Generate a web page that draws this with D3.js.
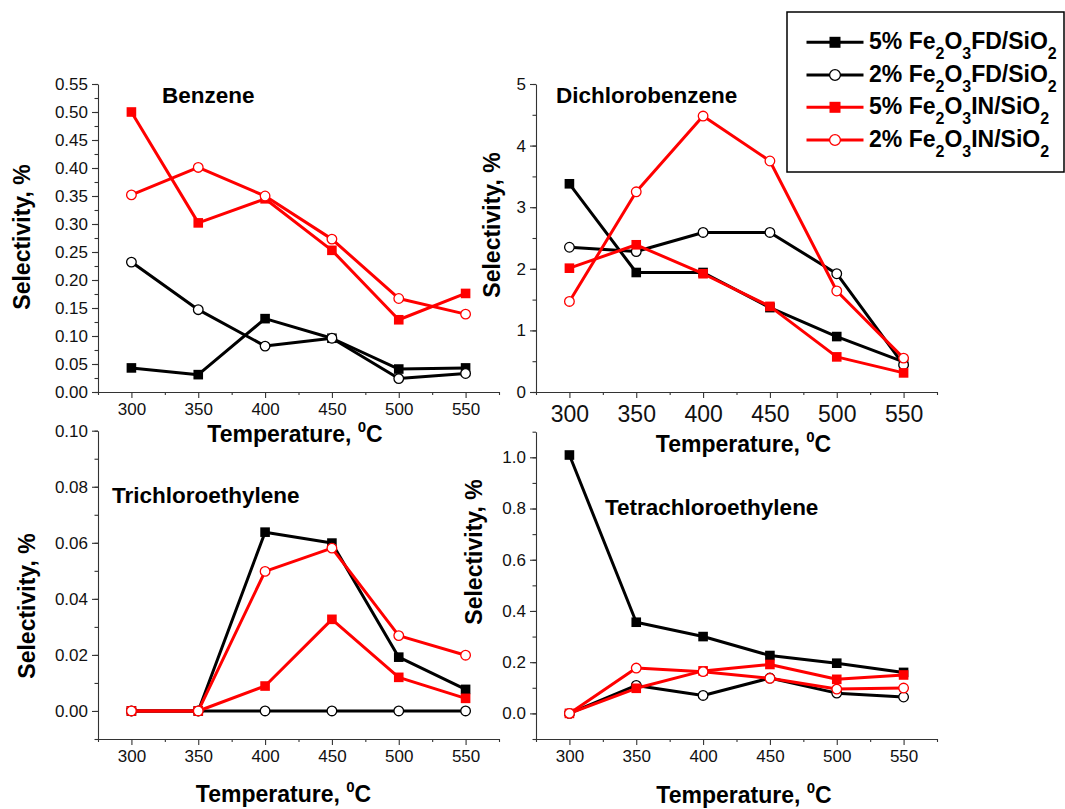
<!DOCTYPE html>
<html>
<head>
<meta charset="utf-8">
<script src="https://cdn.jsdelivr.net/npm/d3@7"></script>
<style>
  html, body { margin: 0; padding: 0; background: #fff; }
  svg { display: block; font-family: "Liberation Sans", Arial, Helvetica, sans-serif; }
</style>
</head>
<body>
<svg id="chart" width="1065" height="809"></svg>
<script>
// Reaction temperatures, °C
const temperatures = [300, 350, 400, 450, 500, 550];

// Catalyst series (legend order)
const seriesKeys = ["fd5", "fd2", "in5", "in2"];
const seriesPercent = ["5%", "2%", "5%", "2%"];
const seriesMethod = ["FD", "FD", "IN", "IN"];

// Benzene selectivity, %
const benzeneFd5 = [0.043, 0.031, 0.131, 0.096, 0.041, 0.043];
const benzeneFd2 = [0.232, 0.147, 0.082, 0.096, 0.024, 0.033];
const benzeneIn5 = [0.500, 0.302, 0.345, 0.253, 0.129, 0.176];
const benzeneIn2 = [0.352, 0.401, 0.350, 0.273, 0.167, 0.139];

// Dichlorobenzene selectivity, %
const dichlorobenzeneFd5 = [3.38, 1.94, 1.94, 1.37, 0.90, 0.49];
const dichlorobenzeneFd2 = [2.35, 2.28, 2.59, 2.59, 1.92, 0.44];
const dichlorobenzeneIn5 = [2.01, 2.39, 1.92, 1.39, 0.57, 0.31];
const dichlorobenzeneIn2 = [1.47, 3.25, 4.48, 3.75, 1.64, 0.55];

// Trichloroethylene selectivity, %
const trichloroethyleneFd5 = [0, 0, 0.0638, 0.0599, 0.0192, 0.0077];
const trichloroethyleneFd2 = [0, 0, 0, 0, 0, 0];
const trichloroethyleneIn5 = [0, 0, 0.0089, 0.0327, 0.0120, 0.0045];
const trichloroethyleneIn2 = [0, 0, 0.0498, 0.0581, 0.0269, 0.0199];

// Tetrachloroethylene selectivity, %
const tetrachloroethyleneFd5 = [1.009, 0.356, 0.300, 0.226, 0.196, 0.160];
const tetrachloroethyleneFd2 = [0, 0.109, 0.070, 0.138, 0.079, 0.064];
const tetrachloroethyleneIn5 = [0, 0.098, 0.166, 0.191, 0.133, 0.150];
const tetrachloroethyleneIn2 = [0, 0.177, 0.163, 0.137, 0.095, 0.099];

// Axis tick values
const xMajorTicks = [300, 350, 400, 450, 500, 550];
const xMinorTicks = [275, 325, 375, 425, 475, 525, 575];
const benzeneTicks = [0, 0.05, 0.10, 0.15, 0.20, 0.25, 0.30, 0.35, 0.40, 0.45, 0.50, 0.55];
const dichlorobenzeneTicks = [0, 1, 2, 3, 4, 5];
const trichloroethyleneTicks = [0, 0.02, 0.04, 0.06, 0.08, 0.10];
const tetrachloroethyleneTicks = [0, 0.2, 0.4, 0.6, 0.8, 1.0];

// Series styles
const styles = {
  fd5: { color: "#000000", marker: "square" },
  fd2: { color: "#000000", marker: "circle" },
  in5: { color: "#ff0000", marker: "square" },
  in2: { color: "#ff0000", marker: "circle" }
};

const svg = d3.select("#chart");
const FONT_BOLD = 23;

const panels = [
  {
    title: "Benzene", titleX: 162, titleY: 103,
    left: 98, right: 499, top: 84, bottom: 392,
    yDomain: [0, 0.55], yTicks: benzeneTicks, yFormat: d3.format(".2f"),
    yMinorStep: 0.025, xTickFont: 17,
    yTitle: [22, 237], xTitle: [295, 441.5],
    series: { fd5: benzeneFd5, fd2: benzeneFd2, in5: benzeneIn5, in2: benzeneIn2 }
  },
  {
    title: "Dichlorobenzene", titleX: 556, titleY: 103,
    left: 536, right: 937, top: 84, bottom: 392,
    yDomain: [0, 5], yTicks: dichlorobenzeneTicks, yFormat: d3.format("d"),
    yMinorStep: 0.5, xTickFont: 23,
    yTitle: [492, 225], xTitle: [743.5, 451.5],
    series: { fd5: dichlorobenzeneFd5, fd2: dichlorobenzeneFd2, in5: dichlorobenzeneIn5, in2: dichlorobenzeneIn2 }
  },
  {
    title: "Trichloroethylene", titleX: 112, titleY: 503,
    left: 98, right: 499, top: 430.7, bottom: 739,
    yDomain: [-0.01, 0.10], yTicks: trichloroethyleneTicks, yFormat: d3.format(".2f"),
    yMinorStep: 0.01, xTickFont: 17,
    yTitle: [27, 606], xTitle: [283.5, 801.5],
    series: { fd5: trichloroethyleneFd5, fd2: trichloroethyleneFd2, in5: trichloroethyleneIn5, in2: trichloroethyleneIn2 }
  },
  {
    title: "Tetrachloroethylene", titleX: 605, titleY: 515,
    left: 536, right: 937, top: 431.7, bottom: 739,
    yDomain: [-0.1, 1.1], yTicks: tetrachloroethyleneTicks, yFormat: d3.format(".1f"),
    yMinorStep: 0.1, xTickFont: 17,
    yTitle: [474, 552], xTitle: [744, 803],
    series: { fd5: tetrachloroethyleneFd5, fd2: tetrachloroethyleneFd2, in5: tetrachloroethyleneIn5, in2: tetrachloroethyleneIn2 }
  }
];

function minorValues(domain, step) {
  const out = [];
  const n = Math.round((domain[1] - domain[0]) / step);
  for (let i = 0; i <= n; i++) out.push(+(domain[0] + i * step).toFixed(6));
  return out;
}

function drawMarker(g, kind, cx, cy, color) {
  if (kind === "square") {
    g.append("rect")
      .attr("x", cx - 4.8).attr("y", cy - 4.8)
      .attr("width", 9.6).attr("height", 9.6)
      .attr("fill", color);
  } else {
    g.append("circle")
      .attr("cx", cx).attr("cy", cy).attr("r", 4.8)
      .attr("fill", "#ffffff")
      .attr("stroke", color).attr("stroke-width", 1.3);
  }
}

panels.forEach(p => {
  const x = d3.scaleLinear().domain([275, 575]).range([p.left, p.right]);
  const y = d3.scaleLinear().domain(p.yDomain).range([p.bottom, p.top]);
  const g = svg.append("g");

  // Minor ticks
  g.append("g")
    .attr("transform", `translate(0,${p.bottom})`)
    .call(d3.axisBottom(x).tickValues(xMinorTicks).tickSize(3).tickSizeOuter(0).tickFormat(""))
    .call(a => a.select(".domain").remove());
  g.append("g")
    .attr("transform", `translate(${p.left},0)`)
    .call(d3.axisLeft(y).tickValues(minorValues(p.yDomain, p.yMinorStep)).tickSize(3.5).tickSizeOuter(0).tickFormat(""))
    .call(a => a.select(".domain").remove());

  // Major axes
  const xAxis = g.append("g")
    .attr("transform", `translate(0,${p.bottom})`)
    .call(d3.axisBottom(x).tickValues(xMajorTicks).tickSize(6).tickSizeOuter(0).tickPadding(4));
  xAxis.selectAll("text")
    .attr("font-size", p.xTickFont)
    .attr("fill", "#111")
    .attr("dy", null)
    .attr("y", p.xTickFont === 23 ? 29.5 : 23)
    .style("font-family", "inherit");

  const yAxis = g.append("g")
    .attr("transform", `translate(${p.left},0)`)
    .call(d3.axisLeft(y).tickValues(p.yTicks).tickFormat(p.yFormat).tickSize(6).tickSizeOuter(0).tickPadding(4));
  yAxis.selectAll("text")
    .attr("font-size", 17)
    .attr("fill", "#111")
    .style("font-family", "inherit");

  g.selectAll(".domain, .tick line").attr("stroke", "#333").attr("stroke-width", 1.1);

  // Panel title
  g.append("text")
    .attr("x", p.titleX).attr("y", p.titleY)
    .attr("font-size", FONT_BOLD - 0.5).attr("font-weight", "bold")
    .text(p.title);

  // Y-axis title
  g.append("text")
    .attr("transform", `translate(${p.yTitle[0]},${p.yTitle[1]}) rotate(-90)`)
    .attr("text-anchor", "middle").attr("dy", "0.36em")
    .attr("font-size", FONT_BOLD).attr("font-weight", "bold")
    .text("Selectivity, %");

  // X-axis title with superscript 0
  const xt = g.append("text")
    .attr("x", p.xTitle[0]).attr("y", p.xTitle[1])
    .attr("text-anchor", "middle")
    .attr("font-size", FONT_BOLD).attr("font-weight", "bold");
  xt.append("tspan").text("Temperature, ");
  xt.append("tspan").attr("font-size", 15).attr("dy", -10).text("0");
  xt.append("tspan").attr("dy", 10).text("C");

  // Series lines and markers
  const line = d3.line().x((d, i) => x(temperatures[i])).y(d => y(d));
  seriesKeys.forEach(k => {
    const vals = p.series[k];
    const st = styles[k];
    g.append("path")
      .datum(vals)
      .attr("d", line)
      .attr("fill", "none")
      .attr("stroke", st.color)
      .attr("stroke-width", 3)
      .attr("stroke-linejoin", "round");
    const mg = g.append("g");
    vals.forEach((v, i) => drawMarker(mg, st.marker, x(temperatures[i]), y(v), st.color));
  });
});

// Legend
const legend = svg.append("g");
legend.append("rect")
  .attr("x", 787).attr("y", 12).attr("width", 277).attr("height", 160)
  .attr("fill", "#fff").attr("stroke", "#000").attr("stroke-width", 1.5);

const legendRows = [42.3, 75, 107.3, 140];
seriesKeys.forEach((k, i) => {
  const st = styles[k];
  const cy = legendRows[i];
  legend.append("line")
    .attr("x1", 806.5).attr("x2", 863.5).attr("y1", cy).attr("y2", cy)
    .attr("stroke", st.color).attr("stroke-width", 3);
  if (st.marker === "square") {
    legend.append("rect").attr("x", 835 - 5.5).attr("y", cy - 5.5)
      .attr("width", 11).attr("height", 11).attr("fill", st.color);
  } else {
    legend.append("circle").attr("cx", 835).attr("cy", cy).attr("r", 5.4)
      .attr("fill", "#fff").attr("stroke", st.color).attr("stroke-width", 1.3);
  }
  const t = legend.append("text")
    .attr("x", 869).attr("y", cy + 6.5)
    .attr("font-size", 23).attr("font-weight", "bold");
  t.append("tspan").text(seriesPercent[i] + " Fe");
  t.append("tspan").attr("font-size", 16).attr("dy", 10).text("2");
  t.append("tspan").attr("dy", -10).text("O");
  t.append("tspan").attr("font-size", 16).attr("dy", 10).text("3");
  t.append("tspan").attr("dy", -10).text(seriesMethod[i] + "/SiO");
  t.append("tspan").attr("font-size", 16).attr("dy", 10).text("2");
});
</script>
</body>
</html>
